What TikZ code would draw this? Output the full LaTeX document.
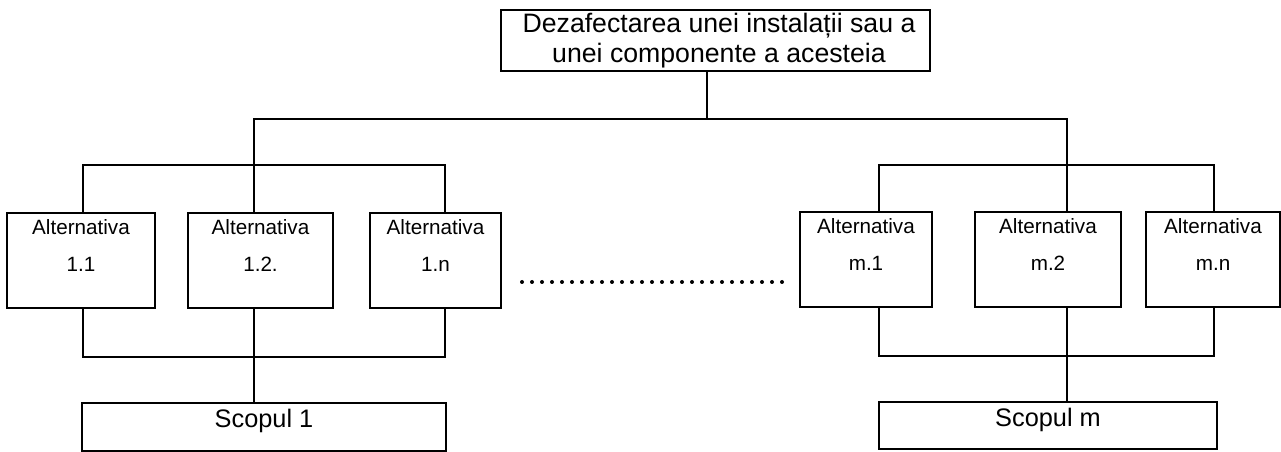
\documentclass[tikz,border=0pt]{standalone}
\usepackage{fontspec}
\setmainfont{Liberation Sans}
\usetikzlibrary{calc}
\begin{document}
\begin{tikzpicture}[x=0.75pt,y=-0.75pt,
  box/.style={draw,line width=1.4pt,rectangle,inner sep=0pt},
  conn/.style={line width=1.4pt},
  alt/.style={anchor=base,inner sep=0pt,font=\fontsize{15.5}{18}\selectfont},
  scop/.style={anchor=base,inner sep=0pt,font=\fontsize{19}{22}\selectfont},
  ttl/.style={anchor=base,inner sep=0pt,font=\fontsize{20}{24}\selectfont}]
\useasboundingbox (0,0) rectangle (1281,452);
% top box
\node[box,minimum width=429*0.75pt,minimum height=61*0.75pt] (top) at (715.5,40.5) {};
\node[ttl] (t1) at (719,33) {Dezafectarea unei instalații sau a};
\node[ttl] (t2) at (719,63) {unei componente a acesteia};
% alternative boxes
\node[box,minimum width=148*0.75pt,minimum height=95*0.75pt] (a11) at (81,260.5) {};
\node[box,minimum width=145*0.75pt,minimum height=95*0.75pt] (a12) at (260.5,260.5) {};
\node[box,minimum width=131*0.75pt,minimum height=95*0.75pt] (a1n) at (435.5,260.5) {};
\node[box,minimum width=132*0.75pt,minimum height=95*0.75pt] (am1) at (866,259.5) {};
\node[box,minimum width=146*0.75pt,minimum height=95*0.75pt] (am2) at (1048,259.5) {};
\node[box,minimum width=134*0.75pt,minimum height=95*0.75pt] (amn) at (1213,259.5) {};
\foreach \n/\l in {a11/1.1,a12/1.2.,a1n/1.n,am1/m.1,am2/m.2,amn/m.n}{
  \node[alt] at ([yshift=-22*0.75pt]\n.north) {Alternativa};
  \node[alt] at ([yshift=-59*0.75pt]\n.north) {\l};
}
% goals
\node[box,minimum width=364*0.75pt,minimum height=48*0.75pt] (s1) at (264,427) {};
\node[box,minimum width=338*0.75pt,minimum height=47*0.75pt] (sm) at (1048,425.5) {};
\node[scop] at ([yshift=-25*0.75pt]s1.north) {Scopul 1};
\node[scop] at ([yshift=-25*0.75pt]sm.north) {Scopul m};
% junction coordinates
\coordinate (jt) at (707,119);
\coordinate (j1) at (254,119);
\coordinate (jm) at (1067,119);
\coordinate (g1l) at (83,165);
\coordinate (g1r) at (445,165);
\coordinate (gml) at (879,165);
\coordinate (gmr) at (1214,165);
\coordinate (b1l) at (83,357);
\coordinate (b1r) at (445,357);
\coordinate (b1c) at (254,357);
\coordinate (bml) at (879,356);
\coordinate (bmr) at (1214,356);
\coordinate (bmc) at (1067,356);
% connectors top
\draw[conn] (top.south -| jt) -- (jt);
\draw[conn] (j1 |- a12.north) -- (j1) -- (jm) -- (jm |- am2.north);
\draw[conn] (g1l |- a11.north) -- (g1l) -- (g1r) -- (g1r |- a1n.north);
\draw[conn] (gml |- am1.north) -- (gml) -- (gmr) -- (gmr |- amn.north);
% connectors bottom
\draw[conn] (b1l |- a11.south) -- (b1l) -- (b1r) -- (b1r |- a1n.south);
\draw[conn] (b1c |- a12.south) -- (b1c |- s1.north);
\draw[conn] (bml |- am1.south) -- (bml) -- (bmr) -- (bmr |- amn.south);
\draw[conn] (bmc |- am2.south) -- (bmc |- sm.north);
% dots
\coordinate (d0) at (522,282);
\coordinate (d1) at (782,282);
\foreach \i in {0,...,26}{
  \fill ($(d0)!{\i/26}!(d1)$) circle (1.5pt);
}
\end{tikzpicture}
\end{document}
